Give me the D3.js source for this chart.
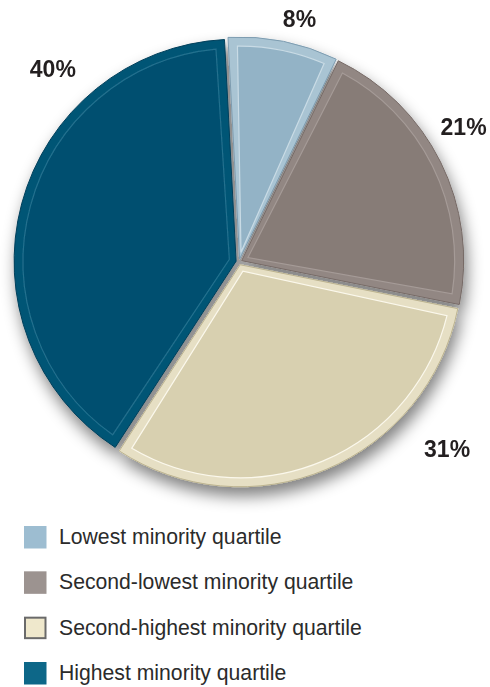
<!DOCTYPE html>
<html lang="en">
<head>
<meta charset="UTF-8">
<title>Minority quartile pie</title>
<script src="https://d3js.org/d3.v7.min.js"></script>
<style>
  body { margin: 0; background: #fff; }
  text { font-family: "Liberation Sans", Arial, Helvetica, sans-serif; }
</style>
</head>
<body>
<div id="chart"></div>
<script>
// data
const categories = ["Lowest minority quartile", "Second-lowest minority quartile",
                    "Second-highest minority quartile", "Highest minority quartile"]
const shares = [8, 21, 31, 40]
const shareLabels = ["8%", "21%", "31%", "40%"]

// styles per slice
const mainColor = ["#93b3c6", "#877b77", "#d8d0b0", "#004f6f"]
const rimColor  = ["#a9c4d3", "#928783", "#e6dfc4", "#035575"]
const lineColor = ["#c9dbe5", "#a59b97", "#fbf8ec", "#22708e"]
const edgeColor = ["#7d9cb0", "#766a66", "#bdb48f", "#003f5a"]
const keyColor  = ["#9dbdd1", "#9c9390", "#efe8cc", "#0d6788"]
const keyStroke = [null, null, "#6a6a6a", null]

const width = 490, height = 687
const cx = 239, cy = 262, R = 222
const startDeg = -3
const explode = 3
const bevel = 9

const svg = d3.select("#chart").append("svg")
    .attr("width", width).attr("height", height)

const defs = svg.append("defs")
const shadow = defs.append("filter").attr("id", "shadow")
    .attr("x", "-20%").attr("y", "-20%").attr("width", "140%").attr("height", "140%")
shadow.append("feGaussianBlur").attr("in", "SourceAlpha").attr("stdDeviation", 8).attr("result", "b")
shadow.append("feOffset").attr("in", "b").attr("dx", 3).attr("dy", 9).attr("result", "o")
shadow.append("feComponentTransfer").attr("in", "o").attr("result", "s")
    .append("feFuncA").attr("type", "linear").attr("slope", 0.5)
const merge = shadow.append("feMerge")
merge.append("feMergeNode").attr("in", "s")
merge.append("feMergeNode").attr("in", "SourceGraphic")

const a0 = startDeg * Math.PI / 180
const pie = d3.pie().sort(null).startAngle(a0).endAngle(a0 + 2 * Math.PI)
const arcs = pie(shares)

const outer = d3.arc().innerRadius(0).outerRadius(R)
const inner = d3.arc().innerRadius(7).outerRadius(R - bevel)
    .padRadius(R).padAngle(2 * bevel / R)

const g = svg.append("g")
    .attr("transform", `translate(${cx},${cy})`)
    .attr("filter", "url(#shadow)")

const slice = g.selectAll("g.slice").data(arcs).enter().append("g")
    .attr("class", "slice")
    .attr("transform", d => {
        const p = d3.pointRadial((d.startAngle + d.endAngle) / 2, explode)
        return `translate(${p[0]},${p[1]})`
    })

slice.append("path")
    .attr("d", outer)
    .attr("fill", (d, i) => rimColor[i])
    .attr("stroke", (d, i) => edgeColor[i])
    .attr("stroke-width", 1)

slice.append("path")
    .attr("d", inner)
    .attr("fill", (d, i) => mainColor[i])
    .attr("stroke", (d, i) => lineColor[i])
    .attr("stroke-width", 1.2)

// percentage labels, placed around the pie
const labelDeg = [14, 59, 132, 316]
const labelRad = [250, 262, 280, 268]
svg.append("g").selectAll("text").data(shareLabels).enter().append("text")
    .attr("x", (d, i) => cx + d3.pointRadial(labelDeg[i] * Math.PI / 180, labelRad[i])[0])
    .attr("y", (d, i) => cy + d3.pointRadial(labelDeg[i] * Math.PI / 180, labelRad[i])[1])
    .attr("dy", "0.35em")
    .attr("text-anchor", "middle")
    .attr("font-size", 23)
    .attr("font-weight", "bold")
    .attr("fill", "#231f20")
    .text(d => d)

// legend
const rowY = d3.scalePoint().domain(categories).range([537, 673])
const legend = svg.append("g").selectAll("g").data(categories).enter().append("g")
    .attr("transform", d => `translate(24,${rowY(d)})`)

legend.append("rect")
    .attr("x", (d, i) => keyStroke[i] ? 1 : 0)
    .attr("y", (d, i) => -11 + (keyStroke[i] ? 1 : 0))
    .attr("width", (d, i) => keyStroke[i] ? 20.5 : 22.5)
    .attr("height", (d, i) => keyStroke[i] ? 20.5 : 22.5)
    .attr("fill", (d, i) => keyColor[i])
    .attr("stroke", (d, i) => keyStroke[i] || "none")
    .attr("stroke-width", 2)

legend.append("text")
    .attr("x", 35)
    .attr("y", 7)
    .attr("font-size", 21.2)
    .attr("fill", "#2b2b2b")
    .text(d => d)
</script>
</body>
</html>
